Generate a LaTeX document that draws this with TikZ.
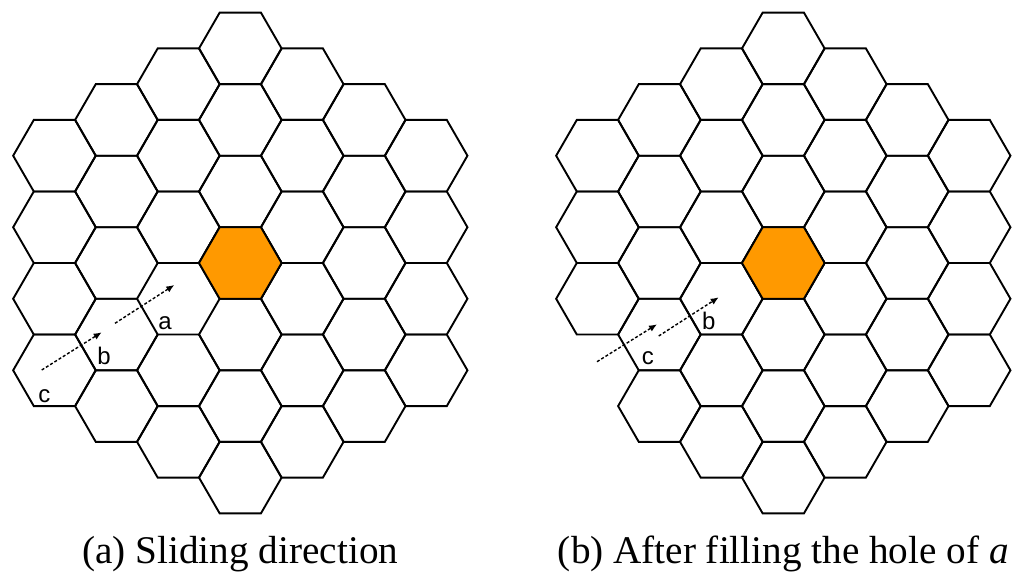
\documentclass[tikz,border=0pt]{standalone}
\usepackage{fontspec}
\setmainfont{Liberation Serif}
\setsansfont{Liberation Sans}
\usetikzlibrary{shapes.geometric,arrows.meta}
\definecolor{cellorange}{RGB}{255,153,0}

\begin{document}
\begin{tikzpicture}[x=0.5pt,y=-0.5pt,
    hex node/.style={regular polygon,regular polygon sides=6,draw,
      minimum size=41.3pt,inner sep=0pt,line width=0.95pt},
    slide/.style={-{Latex[length=4pt,width=3.4pt]},line width=0.7pt,
      dash pattern=on 1.5pt off 1pt},
    tag node/.style={font=\sffamily\fontsize{12}{14}\selectfont,inner sep=0pt,anchor=base},
    cap node/.style={font=\fontsize{19.6}{22}\selectfont,inner sep=0pt,anchor=base}]
  \useasboundingbox (0,0) rectangle (1024,584);
  %cells, one hole on each side%
  \foreach \side/\cx/\hq/\hk in {L/240.3/-1/4,R/783.3/-3/4}{
    \foreach \q/\n in {-3/4,-2/5,-1/6,0/7,1/6,2/5,3/4}{
      \foreach \k in {1,...,\n}{
        \pgfmathtruncatemacro{\hole}{(\q==\hq)&&(\k==\hk)}
        \ifnum\hole=0
          \node[hex node] (\side\q-\k) at ({\cx+\q*61.95},{263+(\k-(\n+1)/2)*71.53}) {};
        \fi
      }
    }
  }
  \node[hex node,fill=cellorange] (Lmid) at (240.3,263) {};
  \node[hex node,fill=cellorange] (Rmid) at (783.3,263) {};

  %(a)%
  \coordinate (Lc0) at (41.7,370);
  \coordinate (Lb1) at (101.7,332.3);
  \coordinate (Lb0) at (115,323.3);
  \coordinate (La1) at (174.3,285);
  \draw[slide] (Lc0) -- (Lb1);
  \draw[slide] (Lb0) -- (La1);
  \node[tag node] (La) at (165,329.3) {a};
  \node[tag node] (Lb) at (104,364) {b};
  \node[tag node] (Lc) at (44.5,402.7) {c};
  \node[cap node] (capL) at (240.3,563) {(a) Sliding direction};

  %(b)%
  \coordinate (Rc0) at (597,361.7);
  \coordinate (Rb1) at (657,324.3);
  \coordinate (Rb0) at (658.7,336);
  \coordinate (Ra1) at (718.7,297.3);
  \draw[slide] (Rc0) -- (Rb1);
  \draw[slide] (Rb0) -- (Ra1);
  \node[tag node] (Rc) at (647.8,364) {c};
  \node[tag node] (Rb) at (708.7,329.3) {b};
  \node[cap node] (capR) at (783.3,563) {(b) After filling the hole of \textit{a}};
\end{tikzpicture}
\end{document}
